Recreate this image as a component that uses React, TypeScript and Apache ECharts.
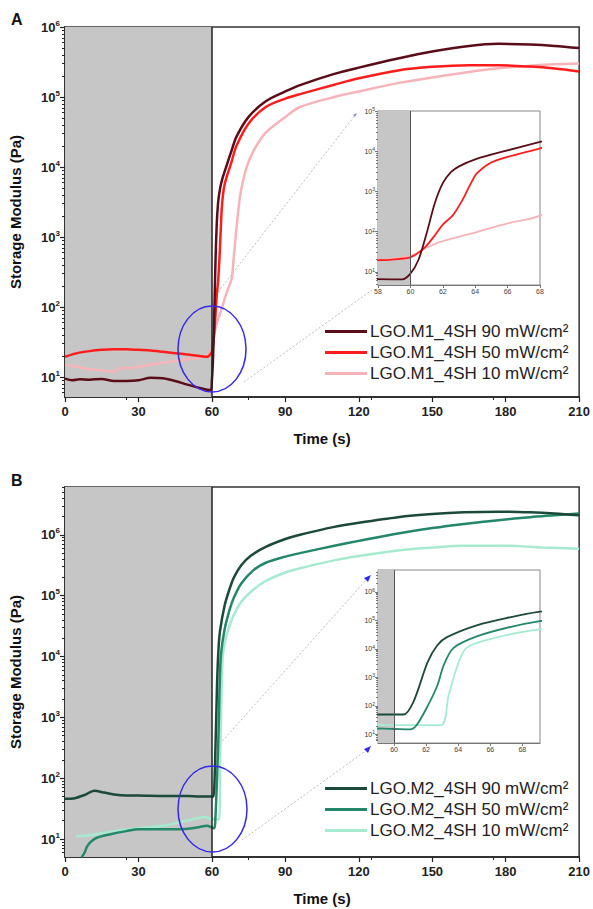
import React, { useEffect, useRef } from "react";
import * as echarts from "echarts";

// ---- data (time s, storage modulus Pa) ----
const M1_90: [number, number][] = [
  [0, 9.5], [3, 9.0], [6, 9.3], [10, 9.2], [15, 9.4], [20, 8.8], [25, 8.8], [30, 9.0], [35, 9.8], [40, 9.6],
  [45, 8.8], [50, 7.8], [55, 7.0], [59.5, 6.5], [60, 9], [60.5, 20], [61, 90], [61.5, 500], [62, 1600],
  [62.5, 3000], [63, 4200], [64, 6300], [66, 10500], [68, 17000], [70, 27000], [75, 52000], [82, 87000],
  [90, 120000], [96, 148000], [110, 214000], [120, 263000], [136, 355000], [150, 447000], [165, 537000],
  [177, 575000], [190, 562000], [200, 537000], [210, 500000],
];
const M1_50: [number, number][] = [
  [0, 19.5], [5, 22], [10, 23.5], [15, 24.5], [20, 25], [25, 25], [30, 24.5], [35, 24], [40, 23], [45, 22],
  [50, 21], [55, 20], [58, 19.5], [59, 20.5], [60, 23], [60.5, 30], [61, 45], [61.5, 80], [62, 150],
  [62.6, 250], [63.2, 600], [63.7, 1500], [64.1, 2800], [64.9, 5000], [65.9, 7000], [68, 11800], [70, 20000],
  [75, 42000], [82, 72000], [90, 95000], [96, 110000], [110, 150000], [120, 185000], [136, 240000],
  [150, 270000], [165, 285000], [177, 285000], [190, 272000], [200, 255000], [210, 232000],
];
const M1_10: [number, number][] = [
  [0, 15], [5, 14], [10, 13], [15, 12.5], [20, 12], [23, 13.5], [27, 13.5], [30, 14], [35, 15], [40, 16],
  [45, 17], [50, 18], [55, 19], [58, 20], [60, 25], [61, 40], [62, 58], [64, 95], [66, 160], [68, 250],
  [69, 550], [70, 1300], [71, 2800], [72, 4800], [74, 9500], [77, 17000], [82, 31000], [90, 52000],
  [96, 72000], [110, 100000], [120, 120000], [136, 158000], [150, 190000], [165, 228000], [177, 257000],
  [190, 280000], [200, 293000], [210, 300000],
];
const M2_90: [number, number][] = [
  [0, 46], [4, 47], [8, 53], [12, 62], [16, 58], [20, 54], [25, 52], [30, 52], [40, 51], [50, 51], [55, 50],
  [60, 50], [60.6, 50], [61.2, 135], [62.1, 3500], [62.7, 13500], [63.3, 26000], [65.2, 69000],
  [67.3, 132000], [69, 200000], [72, 316000], [76, 457000], [82, 631000], [90, 851000], [96, 1000000],
  [110, 1350000], [120, 1580000], [136, 1950000], [150, 2190000], [163, 2340000], [177, 2400000],
  [190, 2340000], [200, 2240000], [210, 2090000],
];
const M2_50: [number, number][] = [
  [6.8, 5.0], [8, 6], [9, 7.5], [10.5, 9], [13, 10.5], [18.6, 12], [25, 13.5], [30, 14.5], [40, 14.5],
  [47, 14.5], [52, 15], [55, 15.8], [58, 16.5], [60, 15.5], [61, 15], [61.4, 21], [62.1, 100], [62.7, 520],
  [63.1, 2700], [63.7, 10700], [65.2, 28000], [67.3, 60000], [69, 93000], [72, 158000], [77, 263000],
  [82, 347000], [90, 437000], [96, 500000], [110, 660000], [120, 794000], [136, 1050000], [150, 1290000],
  [163, 1510000], [177, 1740000], [190, 1950000], [200, 2090000], [210, 2240000],
];
const M2_10: [number, number][] = [
  [4.5, 11], [10, 11.5], [15, 12.5], [20, 13.5], [30, 15], [40, 16.5], [47, 19], [52, 21], [57, 23],
  [59.5, 21.5], [62.9, 21], [63.4, 230], [63.9, 2100], [64.5, 10700], [66.2, 24000], [68.7, 45700],
  [72, 79000], [77, 126000], [82, 174000], [90, 240000], [96, 282000], [110, 380000], [120, 447000],
  [136, 550000], [150, 617000], [163, 661000], [180, 661000], [195, 617000], [210, 589000],
];

const NAMES_M1 = ["LGO.M1_4SH 90 mW/cm²", "LGO.M1_4SH 50 mW/cm²", "LGO.M1_4SH 10 mW/cm²"];
const NAMES_M2 = ["LGO.M2_4SH 90 mW/cm²", "LGO.M2_4SH 50 mW/cm²", "LGO.M2_4SH 10 mW/cm²"];
const COLORS_M1 = ["#5a0d18", "#ff1c1c", "#f6b4b9"];
const COLORS_M2 = ["#1b4a3b", "#23876a", "#a6ebd0"];

const X_MAIN_TICKS = [0, 30, 60, 90, 120, 150, 180, 210];
const X_INSET_A = [58, 60, 62, 64, 66, 68];
const X_INSET_B = [60, 62, 64, 66, 68];
const Y_POW_A = [10, 100, 1000, 10000, 100000, 1000000];
const Y_POW_INSET_A = [10, 100, 1000, 10000, 100000];
const Y_POW_B = [10, 100, 1000, 10000, 100000, 1000000];

const FONT = 'Arial, "Liberation Sans", Helvetica, sans-serif';

function minorValues(lo: number, hi: number): number[] {
  const out: number[] = [];
  for (let e = -1; e <= 7; e++) {
    for (let k = 2; k <= 9; k++) {
      const v = k * Math.pow(10, e);
      if (v > lo && v < hi) out.push(v);
    }
  }
  return out;
}

const powFormatter = (v: number) => `{b|10}{s|${Math.round(Math.log10(v))}}`;

export default function App() {
  const ref = useRef<HTMLDivElement>(null);
  useEffect(() => {
    if (!ref.current) return;
    const chart = echarts.init(ref.current, undefined, { renderer: "svg" });

    const A_MIN = 5.2, A_MAX = 1000001;
    const IA_MIN = 4.7, IA_MAX = 100001;
    const B_MIN = 5.07, B_MAX = 6.1e6;
    const IB_MIN = 5.0, IB_MAX = 5.9e6;

    const mainRich = {
      b: { fontSize: 13, fontWeight: "bold", color: "#222", fontFamily: FONT, lineHeight: 16 },
      s: { fontSize: 8, fontWeight: "bold", color: "#222", fontFamily: FONT, verticalAlign: "top", lineHeight: 9 },
    };
    const insetRich = {
      b: { fontSize: 7, color: "#333", fontFamily: FONT, lineHeight: 9 },
      s: { fontSize: 5, color: "#333", fontFamily: FONT, verticalAlign: "top", lineHeight: 5 },
    };

    const mainX = (gridIndex: number, name: string) => ({
      type: "value", gridIndex, min: 0, max: 210,
      name, nameLocation: "middle", nameGap: 34,
      nameTextStyle: { fontSize: 15, fontWeight: "bold", color: "#111", fontFamily: FONT },
      axisLine: { lineStyle: { color: "#222", width: 1.5 } },
      axisTick: { customValues: X_MAIN_TICKS, length: 5, lineStyle: { color: "#222", width: 1.2 } },
      axisLabel: { customValues: X_MAIN_TICKS, fontSize: 13, fontWeight: "bold", color: "#222", fontFamily: FONT, margin: 8 },
      minorTick: { show: true, splitNumber: 2, length: 3, lineStyle: { color: "#222" } },
      splitLine: { show: false },
    });
    const mainY = (gridIndex: number, min: number, max: number, pows: number[]) => ([
      {
        type: "log", logBase: 10, gridIndex, min, max, position: "left",
        name: "Storage Modulus (Pa)", nameLocation: "middle", nameGap: 42,
        nameTextStyle: { fontSize: 15, fontWeight: "bold", color: "#111", fontFamily: FONT },
        axisLine: { show: true, lineStyle: { color: "#222", width: 1.5 } },
        axisTick: { customValues: pows, length: 5, lineStyle: { color: "#222", width: 1.2 } },
        axisLabel: { customValues: pows, formatter: powFormatter, rich: mainRich, margin: 5 },
        splitLine: { show: false },
      },
      {
        type: "log", logBase: 10, gridIndex, min, max, position: "left", offset: 0,
        axisLine: { show: false },
        axisTick: { customValues: minorValues(min, max), length: 3, lineStyle: { color: "#222", width: 1 } },
        axisLabel: { show: false },
        splitLine: { show: false },
      },
    ]);
    const insetX = (gridIndex: number, min: number, max: number, ticks: number[]) => ({
      type: "value", gridIndex, min, max,
      axisLine: { lineStyle: { color: "#777", width: 1 } },
      axisTick: { customValues: ticks, length: 3, lineStyle: { color: "#777" } },
      axisLabel: { customValues: ticks, fontSize: 7, color: "#444", fontFamily: FONT, margin: 3 },
      splitLine: { show: false },
    });
    const insetY = (gridIndex: number, min: number, max: number, pows: number[]) => ([
      {
        type: "log", logBase: 10, gridIndex, min, max, position: "left",
        axisLine: { show: true, lineStyle: { color: "#777", width: 1 } },
        axisTick: { customValues: pows, length: 3, lineStyle: { color: "#777" } },
        axisLabel: { customValues: pows, formatter: powFormatter, rich: insetRich, margin: 3 },
        splitLine: { show: false },
      },
      {
        type: "log", logBase: 10, gridIndex, min, max, position: "left", offset: 0,
        axisLine: { show: false },
        axisTick: { customValues: minorValues(min, max), length: 2, lineStyle: { color: "#777" } },
        axisLabel: { show: false },
        splitLine: { show: false },
      },
    ]);

    const shade = (x0: number, x1: number, lineColor: string, lw: number) => ({
      markArea: {
        silent: true,
        itemStyle: { color: "#c6c6c6" },
        data: [[{ xAxis: x0 }, { xAxis: x1 }]],
      },
      markLine: {
        silent: true, symbol: "none", label: { show: false },
        lineStyle: { color: lineColor, width: lw, type: "solid" },
        data: [{ xAxis: 60 }],
      },
    });

    const line = (name: string, data: [number, number][], color: string, xi: number, yi: number, w: number, extra: any = {}) => ({
      type: "line", name, data, xAxisIndex: xi, yAxisIndex: yi,
      symbol: "none", smooth: 0.3, clip: true,
      lineStyle: { color, width: w }, itemStyle: { color },
      z: 3,
      ...extra,
    });

    const seriesA = [M1_90, M1_50, M1_10];
    const seriesB = [M2_90, M2_50, M2_10];
    const series: any[] = [];
    // draw light first, dark last
    [2, 1, 0].forEach((i, k) => {
      series.push(line(NAMES_M1[i], seriesA[i], COLORS_M1[i], 0, 0, 2.5, k === 0 ? shade(0, 60, "#222", 1.5) : {}));
      series.push(line(NAMES_M1[i], seriesA[i], COLORS_M1[i], 1, 2, 1.8, k === 0 ? shade(58, 60, "#555", 1) : {}));
      series.push(line(NAMES_M2[i], seriesB[i], COLORS_M2[i], 2, 4, 2.5, k === 0 ? shade(0, 60, "#222", 1.5) : {}));
      series.push(line(NAMES_M2[i], seriesB[i], COLORS_M2[i], 3, 6, 1.8, k === 0 ? shade(59, 60, "#555", 1) : {}));
    });

    const blue = "#3527ee";
    const dash = { stroke: "#bdbdbd", lineWidth: 1, lineDash: [2, 2] };

    const option: any = {
      animation: false,
      backgroundColor: "#fff",
      textStyle: { fontFamily: FONT },
      grid: [
        { left: 64, top: 27, width: 516, height: 370, show: true, borderColor: "#333", borderWidth: 1.5, backgroundColor: "#fff", containLabel: false },
        { left: 378, top: 111, width: 162, height: 174, show: true, borderColor: "#888", borderWidth: 1, backgroundColor: "#fff", containLabel: false },
        { left: 64, top: 487, width: 516, height: 370, show: true, borderColor: "#333", borderWidth: 1.5, backgroundColor: "#fff", containLabel: false },
        { left: 378, top: 570, width: 162, height: 173, show: true, borderColor: "#888", borderWidth: 1, backgroundColor: "#fff", containLabel: false },
      ],
      xAxis: [
        mainX(0, "Time (s)"),
        insetX(1, 58, 68, X_INSET_A),
        mainX(2, "Time (s)"),
        insetX(3, 59, 69.1, X_INSET_B),
      ],
      yAxis: [
        ...mainY(0, A_MIN, A_MAX, Y_POW_A),
        ...insetY(1, IA_MIN, IA_MAX, Y_POW_INSET_A),
        ...mainY(2, B_MIN, B_MAX, Y_POW_B),
        ...insetY(3, IB_MIN, IB_MAX, Y_POW_B),
      ],
      legend: [
        {
          data: NAMES_M1, orient: "vertical", left: 320, top: 318, itemWidth: 42, itemHeight: 3, itemGap: 4,
          icon: "rect", selectedMode: false,
          textStyle: { fontSize: 17, color: "#222", fontFamily: FONT, padding: [0, 0, 0, -2] },
        },
        {
          data: NAMES_M2, orient: "vertical", left: 320, top: 775, itemWidth: 42, itemHeight: 3, itemGap: 4,
          icon: "rect", selectedMode: false,
          textStyle: { fontSize: 17, color: "#222", fontFamily: FONT, padding: [0, 0, 0, -2] },
        },
      ],
      graphic: [
        { type: "text", left: 11, top: 11, style: { text: "A", fontSize: 16, fontWeight: "bold", fill: "#111", fontFamily: FONT } },
        { type: "text", left: 11, top: 472, style: { text: "B", fontSize: 16, fontWeight: "bold", fill: "#111", fontFamily: FONT } },
        // zoom connectors, panel A
        { type: "line", shape: { x1: 218, y1: 292, x2: 356, y2: 114 }, style: dash, z: 1 },
        { type: "line", shape: { x1: 244, y1: 382, x2: 372, y2: 290 }, style: dash, z: 1 },
        { type: "polygon", shape: { points: [[357, 113], [353, 115], [355, 117]] }, style: { fill: "#8888cc" }, z: 10 },
        { type: "ellipse", shape: { cx: 212, cy: 349, rx: 34, ry: 43 }, style: { fill: "none", stroke: blue, lineWidth: 1.5 }, z: 20 },
        // zoom connectors, panel B
        { type: "line", shape: { x1: 217, y1: 747, x2: 367, y2: 579 }, style: dash, z: 1 },
        { type: "line", shape: { x1: 242, y1: 840, x2: 367, y2: 750 }, style: dash, z: 1 },
        { type: "polygon", shape: { points: [[371, 575], [364, 578], [368, 582]] }, style: { fill: blue }, z: 10 },
        { type: "polygon", shape: { points: [[371, 746], [364, 749], [368, 753]] }, style: { fill: blue }, z: 10 },
        { type: "ellipse", shape: { cx: 212.5, cy: 809, rx: 34.5, ry: 43 }, style: { fill: "none", stroke: blue, lineWidth: 1.5 }, z: 20 },
      ],
      series,
    };

    chart.setOption(option);
    return () => chart.dispose();
  }, []);

  return (
    <div
      ref={ref}
      style={{ position: "absolute", left: 0, top: 0, width: 593, height: 909, background: "#fff" }}
    />
  );
}
